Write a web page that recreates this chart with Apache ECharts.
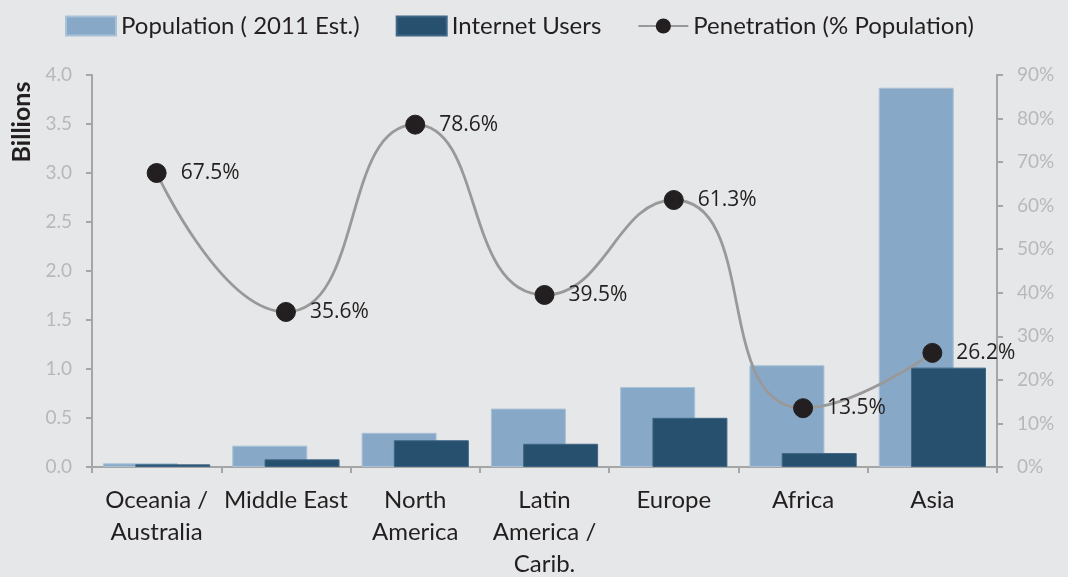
<!DOCTYPE html>
<html>
<head>
<meta charset="utf-8">
<script src="https://cdn.jsdelivr.net/npm/echarts@6/dist/echarts.min.js"></script>
<style>
  html, body { margin: 0; padding: 0; background: #e6e7e8; }
  #chart { width: 1068px; height: 577px; }
</style>
</head>
<body>
<div id="chart"></div>
<script>
// regions along the x axis
const regions = ['Oceania /\nAustralia', 'Middle East', 'North\nAmerica', 'Latin\nAmerica /\nCarib.', 'Europe', 'Africa', 'Asia'];
// billions
const population = [0.037, 0.218, 0.349, 0.596, 0.816, 1.038, 3.87];
const internetUsers = [0.027, 0.078, 0.273, 0.237, 0.502, 0.142, 1.014];
// percent
const penetration = [67.5, 35.6, 78.6, 39.5, 61.3, 13.5, 26.2];

const FONT = 'Lato, "Open Sans", sans-serif';
const axisGray = '#a6a6a6';
const tickText = '#b8b8b8';

const chart = echarts.init(document.getElementById('chart'));
chart.setOption({
    backgroundColor: '#e6e7e8',
    textStyle: { fontFamily: FONT },
    legend: {
        top: 9,
        left: 60,
        itemWidth: 50,
        itemHeight: 19,
        itemGap: 36,
        textStyle: { fontSize: 24, color: '#231f20', fontFamily: FONT },
        data: [
            { name: 'Population ( 2011 Est.)', icon: 'rect' },
            { name: 'Internet Users', icon: 'rect' },
            { name: 'Penetration (% Population)' }
        ]
    },
    graphic: [{
        type: 'text',
        x: 22,
        y: 122,
        rotation: Math.PI / 2,
        style: {
            text: 'Billions',
            font: 'bold 25px ' + FONT,
            fill: '#231f20',
            align: 'center',
            verticalAlign: 'middle'
        }
    }],
    grid: { left: 92, right: 71, top: 75, bottom: 110, containLabel: false, outerBoundsMode: 'none' },
    xAxis: {
        type: 'category',
        data: regions,
        axisLine: { lineStyle: { color: axisGray, width: 2 } },
        axisTick: { show: true, length: 6, lineStyle: { color: axisGray, width: 2 } },
        axisLabel: {
            interval: 0,
            margin: 17,
            fontSize: 24,
            lineHeight: 32,
            color: '#231f20',
            fontFamily: FONT
        }
    },
    yAxis: [{
        type: 'value',
        min: 0,
        max: 4,
        interval: 0.5,
        splitLine: { show: false },
        axisLine: { show: true, lineStyle: { color: axisGray, width: 2 } },
        axisTick: { show: true, length: 6, lineStyle: { color: axisGray, width: 2 } },
        axisLabel: {
            fontSize: 19,
            color: tickText,
            margin: 20,
            formatter: v => v.toFixed(1)
        }
    }, {
        type: 'value',
        min: 0,
        max: 90,
        interval: 10,
        splitLine: { show: false },
        axisLine: { show: true, lineStyle: { color: axisGray, width: 2 } },
        axisTick: { show: true, length: 6, lineStyle: { color: axisGray, width: 2 } },
        axisLabel: {
            fontSize: 19,
            color: tickText,
            margin: 20,
            formatter: '{value}%'
        }
    }],
    series: [{
        name: 'Population ( 2011 Est.)',
        type: 'bar',
        data: population,
        barWidth: 75,
        barGap: '-57%',
        itemStyle: { color: '#87a9c7', borderColor: '#a9c1d7', borderWidth: 1 }
    }, {
        name: 'Internet Users',
        type: 'bar',
        data: internetUsers,
        barWidth: 75,
        itemStyle: { color: '#27506f', borderColor: '#3f6686', borderWidth: 1 }
    }, {
        name: 'Penetration (% Population)',
        type: 'line',
        yAxisIndex: 1,
        data: penetration,
        smooth: 0.55,
        symbol: 'circle',
        symbolSize: 19,
        z: 5,
        lineStyle: { color: '#999999', width: 2.8 },
        itemStyle: { color: '#231f20', borderColor: '#231f20' },
        label: {
            show: true,
            position: 'right',
            distance: 14,
            fontSize: 21,
            color: '#231f20',
            fontFamily: '"Open Sans", sans-serif',
            formatter: p => p.value.toFixed(1) + '%'
        }
    }]
});
</script>
</body>
</html>
